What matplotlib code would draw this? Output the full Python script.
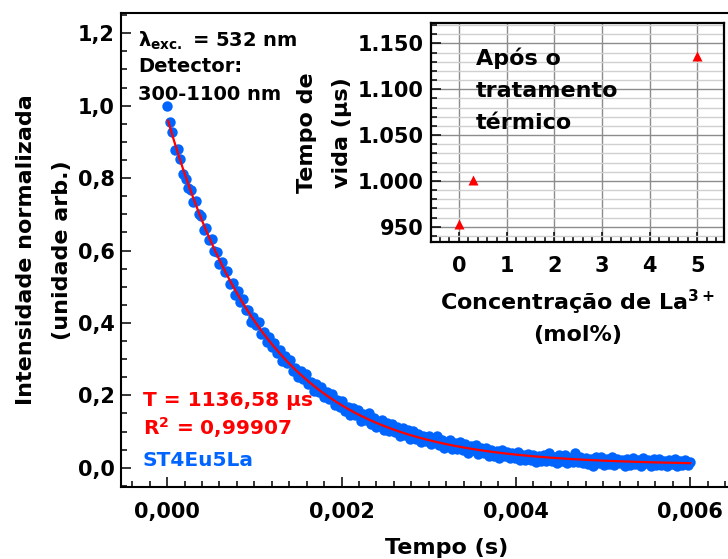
import numpy as np
import matplotlib
matplotlib.use("Agg")
import matplotlib.pyplot as plt
from matplotlib.ticker import MultipleLocator, FuncFormatter

# ── Data ──────────────────────────────────────────────────
# decay curve, sampled every 30 us from t = 0
dt = 30e-6
intensity = [
    1.000, 0.956, 0.926, 0.878, 0.881, 0.854, 0.811, 0.797, 0.772, 0.768,
    0.734, 0.737, 0.701, 0.696, 0.657, 0.663, 0.629, 0.632, 0.598, 0.597,
    0.562, 0.569, 0.541, 0.543, 0.507, 0.510, 0.477, 0.488, 0.458, 0.466,
    0.436, 0.435, 0.404, 0.417, 0.395, 0.403, 0.369, 0.375, 0.348, 0.361,
    0.334, 0.345, 0.318, 0.326, 0.294, 0.308, 0.289, 0.297, 0.268, 0.277,
    0.252, 0.268, 0.245, 0.259, 0.231, 0.237, 0.211, 0.231, 0.209, 0.222,
    0.195, 0.208, 0.191, 0.204, 0.173, 0.186, 0.168, 0.184, 0.157, 0.167,
    0.147, 0.165, 0.145, 0.160, 0.130, 0.148, 0.131, 0.150, 0.122, 0.137,
    0.112, 0.127, 0.132, 0.105, 0.124, 0.102, 0.122, 0.098, 0.112, 0.088,
    0.111, 0.091, 0.105, 0.080, 0.102, 0.080, 0.094, 0.070, 0.088, 0.074,
    0.088, 0.065, 0.079, 0.087, 0.062, 0.078, 0.054, 0.069, 0.077, 0.052,
    0.069, 0.053, 0.070, 0.049, 0.065, 0.042, 0.059, 0.048, 0.063, 0.039,
    0.056, 0.041, 0.056, 0.033, 0.050, 0.033, 0.046, 0.028, 0.049, 0.032,
    0.045, 0.026, 0.041, 0.027, 0.044, 0.021, 0.036, 0.022, 0.039, 0.022,
    0.036, 0.015, 0.033, 0.018, 0.035, 0.019, 0.040, 0.020, 0.031, 0.013,
    0.034, 0.020, 0.035, 0.013, 0.028, 0.016, 0.040, 0.017, 0.031, 0.012,
    0.028, 0.010, 0.025, 0.005, 0.029, 0.014, 0.030, 0.008, 0.023, 0.011,
    0.031, 0.008, 0.024, 0.012, 0.022, 0.005, 0.025, 0.009, 0.027, 0.011,
    0.022, 0.006, 0.028, 0.012, 0.022, 0.004, 0.023, 0.009, 0.025, 0.007,
    0.020, 0.004, 0.022, 0.010, 0.024, 0.006, 0.018, 0.007, 0.021, 0.009,
    0.015,
]
time_s = dt * np.arange(len(intensity))

# mono-exponential fit
tau_us = 1136.58
fit_amp = 0.959
fit_offset = 0.008
r_squared = "0,99907"
sample_name = "ST4Eu5La"

# lifetime vs La3+ content (after heat treatment)
la_conc = [0.0, 0.3, 5.0]
lifetime_us = [953, 1001, tau_us]

BLUE = '#0064ff'
RED = '#ff0000'
W, H = 728, 559

plt.rcParams['font.family'] = ['DejaVu Sans']
plt.rcParams['font.weight'] = 'bold'
plt.rcParams['axes.labelweight'] = 'bold'
plt.rcParams['mathtext.fontset'] = 'dejavusans'


def px(x, y):
    return x / W, 1 - y / H


fig = plt.figure(figsize=(W / 100, H / 100), dpi=100)

# ── Main decay plot ───────────────────────────────────────
ax = fig.add_axes([121 / W, 72 / H, 652 / W, 474 / H])
ax.plot(time_s, intensity, 'o', color=BLUE, ms=7.5, mec='none', zorder=2)
t_fit = np.linspace(10e-6, 0.006, 400)
ax.plot(t_fit, fit_offset + fit_amp * np.exp(-t_fit / (tau_us * 1e-6)),
        color=RED, lw=1.6, zorder=3)

ax.set_xlim(-0.00053, 0.00695)
ax.set_ylim(-0.053, 1.256)
ax.xaxis.set_major_locator(MultipleLocator(0.002))
ax.xaxis.set_minor_locator(MultipleLocator(0.0002))
ax.yaxis.set_major_locator(MultipleLocator(0.2))
ax.yaxis.set_minor_locator(MultipleLocator(0.05))
ax.xaxis.set_major_formatter(FuncFormatter(lambda v, p: f"{v:.3f}".replace('.', ',')))
ax.yaxis.set_major_formatter(FuncFormatter(lambda v, p: f"{v:.1f}".replace('.', ',')))
ax.tick_params(which='both', direction='in', width=1.1, labelsize=15)
ax.tick_params(which='major', length=7)
ax.tick_params(which='minor', length=4.5)
ax.tick_params(axis='x', pad=11)
ax.tick_params(axis='y', pad=4.5)
for side in ['left', 'bottom', 'top']:
    ax.spines[side].set_linewidth(1.5)
ax.spines['right'].set_visible(False)

ax.set_xlabel("Tempo (s)", fontsize=16, labelpad=11)
ax.set_ylabel("Intensidade normalizada\n(unidade arb.)", fontsize=16,
              labelpad=4, linespacing=2.05)

fig.text(*px(138, 46.5), r"λ$_{\mathrm{exc.}}$ = 532 nm", fontsize=14, va='baseline')
fig.text(*px(138, 72.5), "Detector:", fontsize=14, va='baseline')
fig.text(*px(138, 100), "300-1100 nm", fontsize=14, va='baseline')

fig.text(*px(143, 406.5), f"T = {tau_us:.2f} µs".replace('.', ','),
         fontsize=14.5, color=RED, va='baseline')
fig.text(*px(143, 435), f"R$^{{\\mathrm{{2}}}}$ = {r_squared}",
         fontsize=14.5, color=RED, va='baseline')
fig.text(*px(143, 465.5), sample_name, fontsize=14.5, color=BLUE, va='baseline')

# ── Inset: lifetime vs concentration ──────────────────────
ax_in = fig.add_axes([430.7 / W, 1 - 242.3 / H, 293.3 / W, 219 / H])
ax_in.set_facecolor('white')
ax_in.plot(la_conc, lifetime_us, '^', color=RED, ms=7, mec='none', zorder=3)
ax_in.set_xlim(-0.59, 5.56)
ax_in.set_ylim(933, 1172)
ax_in.xaxis.set_major_locator(MultipleLocator(1))
ax_in.xaxis.set_minor_locator(MultipleLocator(0.2))
ax_in.yaxis.set_major_locator(MultipleLocator(50))
ax_in.yaxis.set_minor_locator(MultipleLocator(10))
ax_in.yaxis.set_major_formatter(
    FuncFormatter(lambda v, p: f"{v:,.0f}".replace(',', '.')))
ax_in.grid(which='major', color='#8c8c8c', lw=1.0)
ax_in.grid(which='minor', axis='y', color='#d0d0d0', lw=1.0)
ax_in.set_axisbelow(True)
ax_in.tick_params(which='both', direction='in', width=1.1, labelsize=15)
ax_in.tick_params(which='major', length=7)
ax_in.tick_params(which='minor', length=4)
ax_in.tick_params(axis='x', pad=10)
ax_in.tick_params(axis='y', pad=5)
for sp in ax_in.spines.values():
    sp.set_linewidth(1.6)

ax_in.set_xlabel("Concentração de La$^{\\mathrm{3+}}$\n(mol%)", fontsize=16,
                 labelpad=8, linespacing=1.5)
ax_in.set_ylabel("Tempo de\nvida (µs)", fontsize=16, labelpad=4, linespacing=1.95)

for txt, yb in [("Após o", 65), ("tratamento", 96.7), ("térmico", 129.3)]:
    fig.text(*px(475.7, yb), txt, fontsize=16, va='baseline')

fig.savefig("out.png", dpi=100)
